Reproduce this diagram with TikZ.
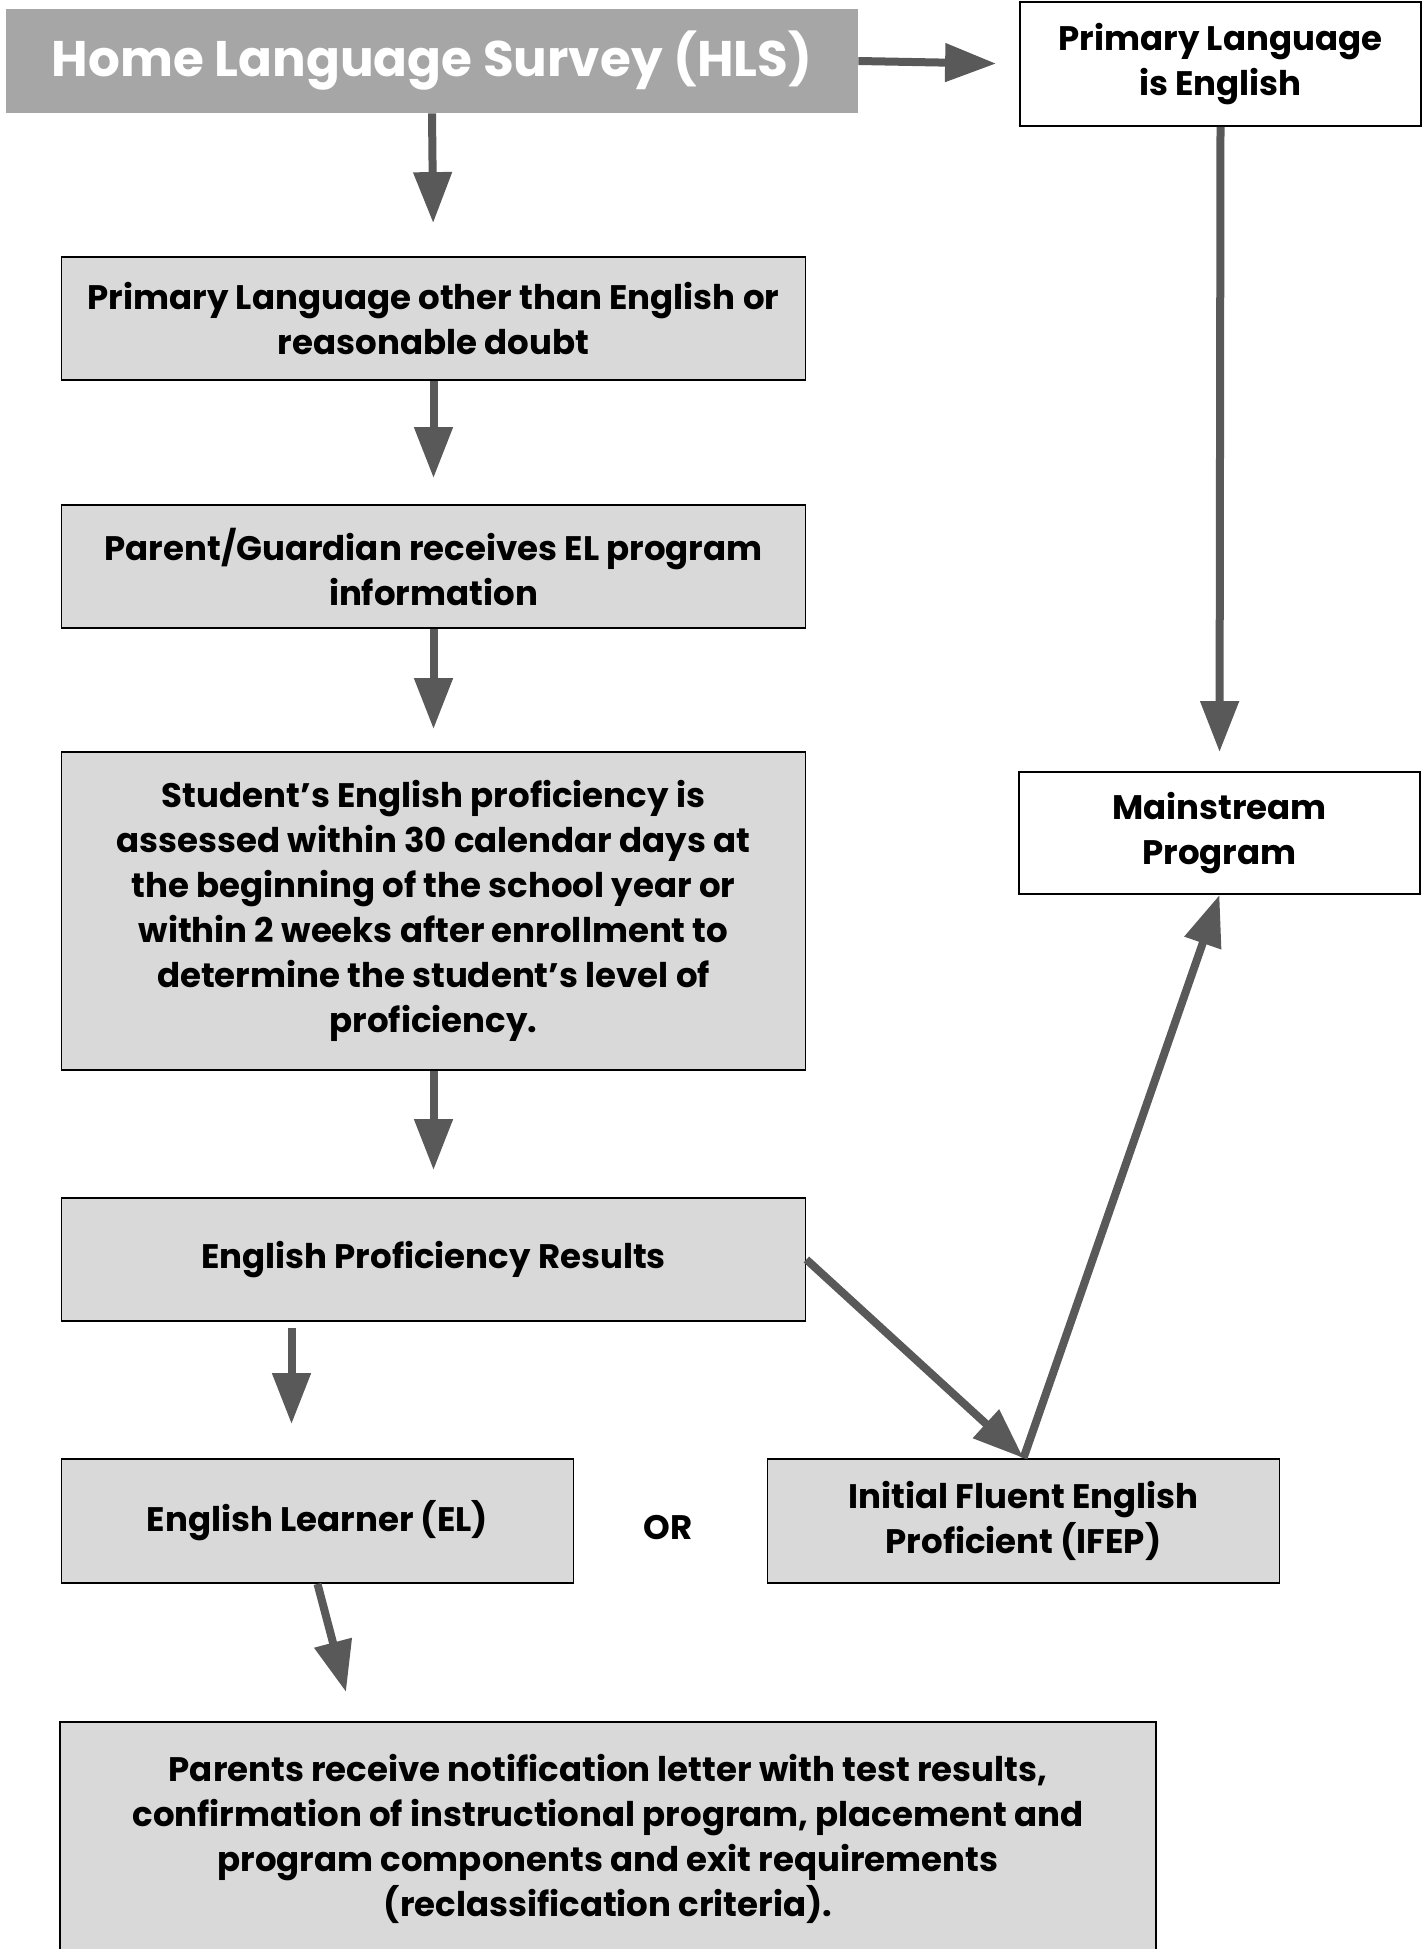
\documentclass[tikz,border=0pt]{standalone}
\usepackage{fontspec}
\setmainfont{Poppins}
\usepackage{tikz}
\usetikzlibrary{arrows.meta,positioning}
\definecolor{boxgray}{HTML}{D9D9D9}
\definecolor{hlsgray}{HTML}{A6A6A6}
\definecolor{arrgray}{HTML}{595959}
\begin{document}
\begin{tikzpicture}[x=0.5pt,y=-0.5pt,
  box/.style={draw=black, line width=0.9pt, fill=boxgray, minimum width=372pt, minimum height=61.5pt, align=center, inner sep=0pt, font=\bfseries\fontsize{17}{22.5}\selectfont},
  wbox/.style={box, fill=white, minimum width=200.5pt},
  arr/.style={draw=arrgray, line width=4pt, -{Triangle[length=25.5pt,width=18.5pt]}}]
\useasboundingbox (0,0) rectangle (1427,1949);

\node[fill=hlsgray, text=white, minimum width=426pt, minimum height=52pt, inner sep=0pt, font=\bfseries\fontsize{25}{30}\selectfont] (hls) at (432,61) {Home Language Survey (HLS)};
\node[wbox, minimum height=62pt] (english) at (1220.5,64) {Primary Language\\is English};
\node[box] (other) at (433.5,318.5) {Primary Language other than English or\\reasonable doubt};
\node[box] (info) at (433.5,566.5) {Parent/Guardian receives EL program\\information};
\node[box, minimum height=159pt] (assess) at (433.5,911) {Student’s English proficiency is\\assessed within 30 calendar days at\\the beginning of the school year or\\within 2 weeks after enrollment to\\determine the student’s level of\\proficiency.};
\node[box] (results) at (433.5,1259.5) {English Proficiency Results};
\node[box, minimum width=256pt, minimum height=62pt] (el) at (317.5,1521) {English Learner (EL)};
\node[font=\bfseries\fontsize{17}{22.5}\selectfont] (or) at (668,1527) {OR};
\node[box, minimum width=256pt, minimum height=62pt] (ifep) at (1023.5,1521) {Initial Fluent English\\Proficient (IFEP)};
\node[wbox, minimum height=61pt] (main) at (1219.5,833) {Mainstream\\Program};
\node[box, minimum width=548pt, minimum height=116.5pt] (letter) at (608,1838.5) {Parents receive notification letter with test results,\\confirmation of instructional program, placement and\\program components and exit requirements\\(reclassification criteria).};
\coordinate (elend) at (346,1692);

\draw[arr, shorten >=11.5pt] (hls.east) -- (english.west);
\draw[arr, shorten >=16.5pt] (hls.south) -- (other.north);
\draw[arr, shorten >=13pt] (other.south) -- (info.north);
\draw[arr, shorten >=11pt] (info.south) -- (assess.north);
\draw[arr, shorten >=13.5pt] (assess.south) -- (results.north);
\draw[arr, shorten >=17pt] ([xshift=-71pt,yshift=-3pt]results.south) -- ([xshift=-71pt]results.south |- el.north);
\draw[arr] (results.east) -- (ifep.north);
\draw[arr] (ifep.north) -- (main.south);
\draw[arr, shorten >=9.5pt] (english.south) -- (main.north);
\draw[arr] (el.south) -- (elend);
\end{tikzpicture}
\end{document}
